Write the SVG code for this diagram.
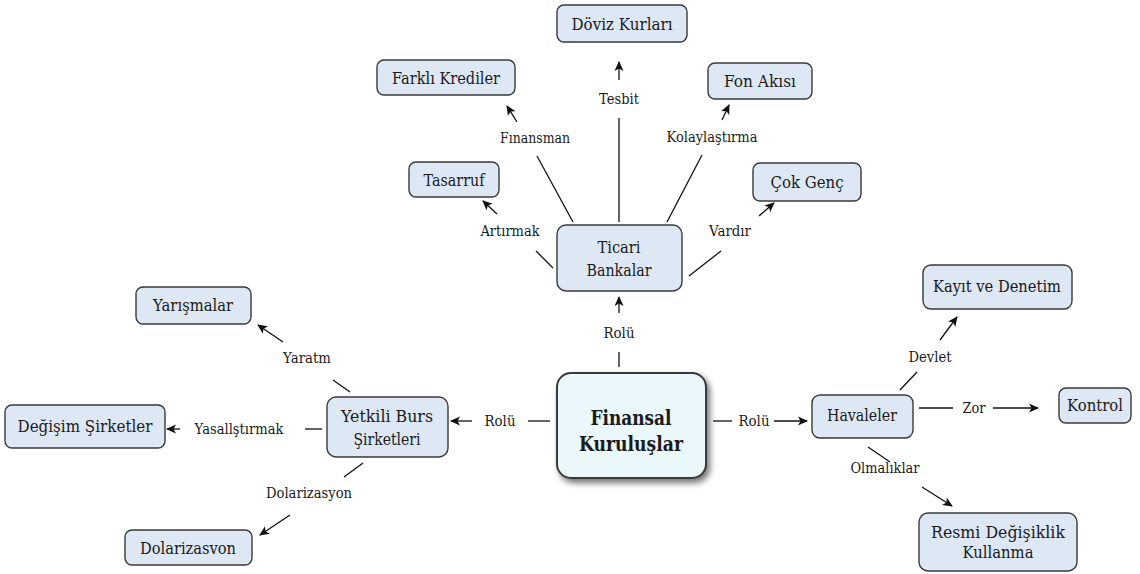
<svg xmlns="http://www.w3.org/2000/svg" width="1140" height="574" viewBox="0 0 1140 574">
  <defs>
    <marker id="arrow" viewBox="0 0 10 10" refX="9" refY="5" markerWidth="10" markerHeight="10" markerUnits="userSpaceOnUse" orient="auto">
      <path d="M0,0.5 L10,5 L0,9.5 L2.5,5 Z" fill="#111"/>
    </marker>
    <filter id="shadow" x="-20%" y="-20%" width="150%" height="150%">
      <feGaussianBlur in="SourceAlpha" stdDeviation="3"/>
      <feOffset dx="3" dy="4"/>
      <feComponentTransfer><feFuncA type="linear" slope="0.55"/></feComponentTransfer>
      <feMerge><feMergeNode/><feMergeNode in="SourceGraphic"/></feMerge>
    </filter>
  </defs>
  <style>
    .box { fill: #dde8f4; stroke: #3a3a3a; stroke-width: 1.4; }
    .hub { fill: #eaf7fb; stroke: #3a3a3a; stroke-width: 2; }
    text { font-family: "DejaVu Serif", serif; fill: #1a1a1a; text-anchor: middle; }
    .t { font-size: 16px; }
    .lbl { font-size: 14.5px; }
    .hubt { font-size: 20px; font-weight: bold; }
    .ln { stroke: #111; stroke-width: 1.3; fill: none; }
    .ar { stroke: #111; stroke-width: 1.3; fill: none; marker-end: url(#arrow); }
  </style>

  <rect width="1140" height="574" fill="#ffffff"/>

  <!-- connectors and their labels -->
  <g id="connectors">
    <!-- hub to Ticari Bankalar -->
    <line class="ln" x1="619" y1="367" x2="619" y2="352"/>
    <text class="lbl" x="619" y="338" textLength="31" lengthAdjust="spacingAndGlyphs">Rolü</text>
    <line class="ar" x1="619" y1="313" x2="619" y2="297"/>

    <!-- hub to Havaleler -->
    <line class="ln" x1="713" y1="421" x2="732" y2="421"/>
    <text class="lbl" x="754" y="426" textLength="31" lengthAdjust="spacingAndGlyphs">Rolü</text>
    <line class="ar" x1="774" y1="421" x2="807" y2="421"/>

    <!-- hub to Yetkili Burs Şirketleri -->
    <line class="ln" x1="550" y1="421" x2="528" y2="421"/>
    <text class="lbl" x="500" y="426" textLength="31" lengthAdjust="spacingAndGlyphs">Rolü</text>
    <line class="ar" x1="472" y1="421" x2="451" y2="421"/>

    <!-- Ticari Bankalar branches -->
    <line class="ln" x1="553" y1="268" x2="536" y2="251"/>
    <text class="lbl" x="510" y="236" textLength="59" lengthAdjust="spacingAndGlyphs">Artırmak</text>
    <line class="ar" x1="497" y1="214" x2="483" y2="201"/>

    <line class="ln" x1="573" y1="222" x2="537" y2="156"/>
    <text class="lbl" x="535" y="143" textLength="70" lengthAdjust="spacingAndGlyphs">Fınansman</text>
    <line class="ar" x1="517" y1="122" x2="507" y2="106"/>

    <line class="ln" x1="619" y1="222" x2="619" y2="118"/>
    <text class="lbl" x="619" y="104" textLength="40" lengthAdjust="spacingAndGlyphs">Tesbit</text>
    <line class="ar" x1="619" y1="80" x2="619" y2="62"/>

    <line class="ln" x1="667" y1="222" x2="702" y2="155"/>
    <text class="lbl" x="712" y="142" textLength="91" lengthAdjust="spacingAndGlyphs">Kolaylaştırma</text>
    <line class="ar" x1="722" y1="120" x2="729" y2="105"/>

    <line class="ln" x1="689" y1="276" x2="721" y2="251"/>
    <text class="lbl" x="730" y="236" textLength="42" lengthAdjust="spacingAndGlyphs">Vardır</text>
    <line class="ar" x1="759" y1="216" x2="774" y2="203"/>

    <!-- Yetkili Burs Şirketleri branches -->
    <line class="ln" x1="350" y1="392" x2="333" y2="380"/>
    <text class="lbl" x="307" y="363" textLength="48" lengthAdjust="spacingAndGlyphs">Yaratm</text>
    <line class="ar" x1="283" y1="342" x2="258" y2="325"/>

    <line class="ln" x1="322" y1="429" x2="305" y2="429"/>
    <text class="lbl" x="239" y="434" textLength="89" lengthAdjust="spacingAndGlyphs">Yasallştırmak</text>
    <line class="ar" x1="180" y1="429" x2="167" y2="429"/>

    <line class="ln" x1="363" y1="463" x2="344" y2="477"/>
    <text class="lbl" x="309" y="498" textLength="86" lengthAdjust="spacingAndGlyphs">Dolarizasyon</text>
    <line class="ar" x1="290" y1="515" x2="260" y2="535"/>

    <!-- Havaleler branches -->
    <line class="ln" x1="900" y1="390" x2="917" y2="372"/>
    <text class="lbl" x="930" y="362" textLength="43" lengthAdjust="spacingAndGlyphs">Devlet</text>
    <line class="ar" x1="940" y1="340" x2="957" y2="317"/>

    <line class="ln" x1="919" y1="408" x2="953" y2="408"/>
    <text class="lbl" x="974" y="413" textLength="23" lengthAdjust="spacingAndGlyphs">Zor</text>
    <line class="ar" x1="993" y1="408" x2="1038" y2="408"/>

    <line class="ln" x1="868" y1="447" x2="890" y2="462"/>
    <text class="lbl" x="885" y="473" textLength="69" lengthAdjust="spacingAndGlyphs">Olmalıklar</text>
    <line class="ar" x1="922" y1="487" x2="952" y2="506"/>
  </g>

  <!-- central node -->
  <g id="finansal-kuruluslar">
    <rect class="hub" x="557" y="373" width="149" height="105" rx="14" filter="url(#shadow)"/>
    <text class="hubt" x="631" y="425" textLength="81" lengthAdjust="spacingAndGlyphs">Finansal</text>
    <text class="hubt" x="631" y="451" textLength="104" lengthAdjust="spacingAndGlyphs">Kuruluşlar</text>
  </g>

  <g id="ticari-bankalar">
    <rect class="box" x="557" y="225" width="125" height="66" rx="9"/>
    <text class="t" x="619" y="253" textLength="43" lengthAdjust="spacingAndGlyphs">Ticari</text>
    <text class="t" x="619" y="276" textLength="65" lengthAdjust="spacingAndGlyphs">Bankalar</text>
  </g>

  <g id="doviz-kurlari">
    <rect class="box" x="557" y="5" width="130" height="37" rx="7"/>
    <text class="t" x="622" y="30" textLength="101" lengthAdjust="spacingAndGlyphs">Döviz Kurları</text>
  </g>

  <g id="farkli-krediler">
    <rect class="box" x="377" y="60" width="138" height="35" rx="7"/>
    <text class="t" x="446" y="84" textLength="108" lengthAdjust="spacingAndGlyphs">Farklı Krediler</text>
  </g>

  <g id="tasarruf">
    <rect class="box" x="409" y="162" width="90" height="35" rx="7"/>
    <text class="t" x="454" y="186" textLength="61" lengthAdjust="spacingAndGlyphs">Tasarruf</text>
  </g>

  <g id="fon-akisi">
    <rect class="box" x="708" y="63" width="104" height="36" rx="7"/>
    <text class="t" x="760" y="87" textLength="72" lengthAdjust="spacingAndGlyphs">Fon Akısı</text>
  </g>

  <g id="cok-genc">
    <rect class="box" x="753" y="163" width="108" height="38" rx="7"/>
    <text class="t" x="807" y="188" textLength="73" lengthAdjust="spacingAndGlyphs">Çok Genç</text>
  </g>

  <g id="yetkili-burs-sirketleri">
    <rect class="box" x="327" y="397" width="121" height="60" rx="9"/>
    <text class="t" x="387" y="422" textLength="92" lengthAdjust="spacingAndGlyphs">Yetkili Burs</text>
    <text class="t" x="387" y="445" textLength="67" lengthAdjust="spacingAndGlyphs">Şirketleri</text>
  </g>

  <g id="yarismalar">
    <rect class="box" x="136" y="287" width="115" height="37" rx="7"/>
    <text class="t" x="193" y="311" textLength="80" lengthAdjust="spacingAndGlyphs">Yarışmalar</text>
  </g>

  <g id="degisim-sirketler">
    <rect class="box" x="5" y="405" width="160" height="43" rx="7"/>
    <text class="t" x="85" y="432" textLength="135" lengthAdjust="spacingAndGlyphs">Değişim Şirketler</text>
  </g>

  <g id="dolarizasvon">
    <rect class="box" x="125" y="530" width="127" height="35" rx="7"/>
    <text class="t" x="188" y="554" textLength="96" lengthAdjust="spacingAndGlyphs">Dolarizasvon</text>
  </g>

  <g id="havaleler">
    <rect class="box" x="812" y="395" width="101" height="43" rx="8"/>
    <text class="t" x="862" y="421" textLength="70" lengthAdjust="spacingAndGlyphs">Havaleler</text>
  </g>

  <g id="kayit-ve-denetim">
    <rect class="box" x="923" y="265" width="149" height="44" rx="8"/>
    <text class="t" x="997" y="292" textLength="128" lengthAdjust="spacingAndGlyphs">Kayıt ve Denetim</text>
  </g>

  <g id="kontrol">
    <rect class="box" x="1059" y="388" width="72" height="35" rx="7"/>
    <text class="t" x="1095" y="411" textLength="56" lengthAdjust="spacingAndGlyphs">Kontrol</text>
  </g>

  <g id="resmi-degisiklik-kullanma">
    <rect class="box" x="919" y="513" width="158" height="58" rx="9"/>
    <text class="t" x="998" y="538" textLength="134" lengthAdjust="spacingAndGlyphs">Resmi Değişiklik</text>
    <text class="t" x="998" y="558" textLength="71" lengthAdjust="spacingAndGlyphs">Kullanma</text>
  </g>
</svg>
